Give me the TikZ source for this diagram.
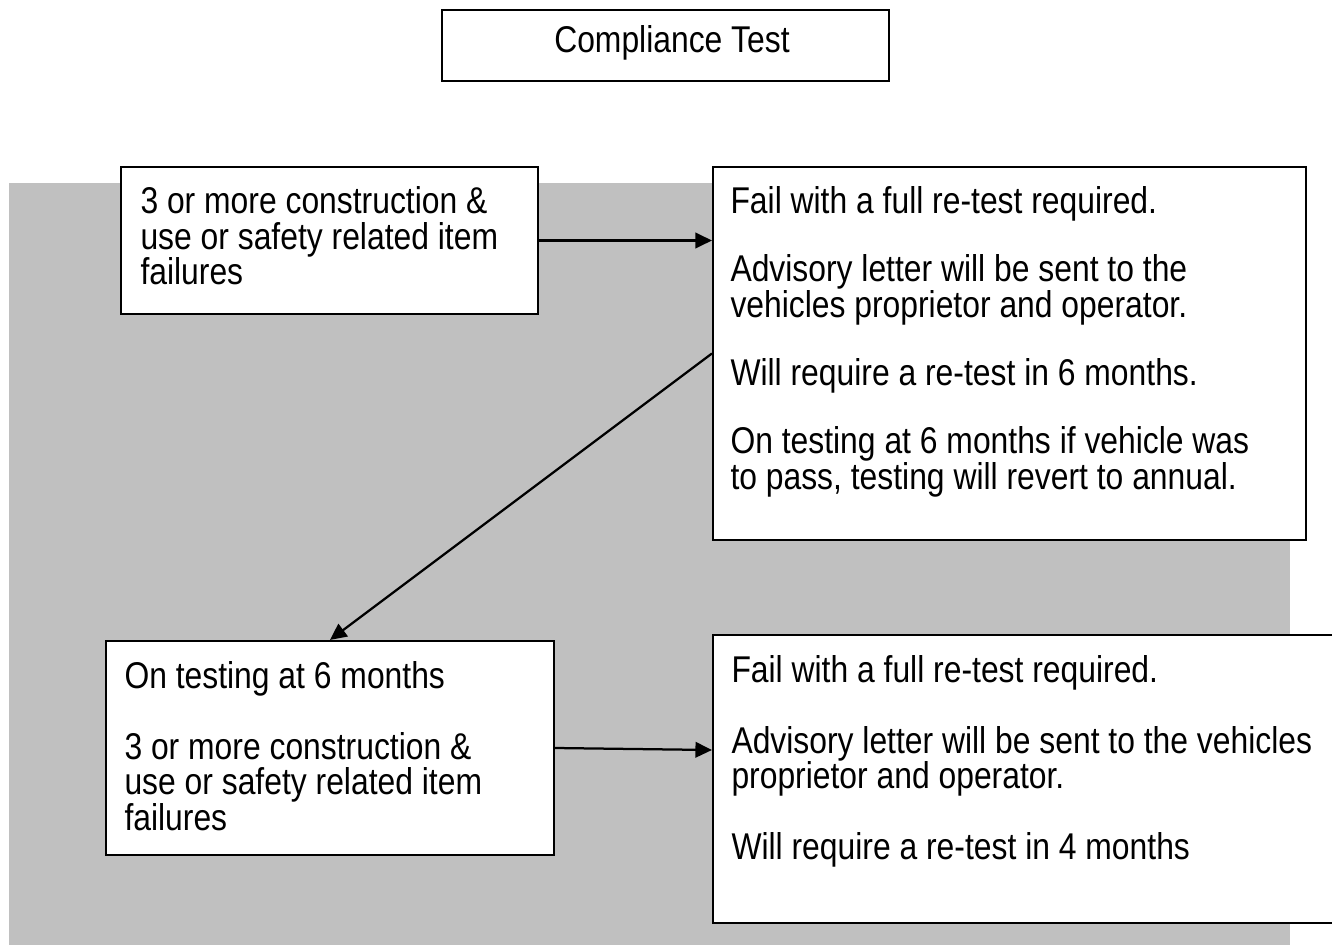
\documentclass[tikz,border=0pt]{standalone}
\usepackage{fontspec}
\setmainfont{Liberation Sans}
\newfontfamily\boxfont[FakeStretch=0.855]{Liberation Sans}
\usetikzlibrary{fit}
\usetikzlibrary{arrows.meta}
\definecolor{panelgrey}{RGB}{192,192,192}
\newcommand{\gapsk}{14.2pt}
\newcommand{\gapskb}{13pt}
\newcommand{\boxsize}{\fontsize{14.9}{14.2}\selectfont}

\begin{document}
\begin{tikzpicture}[x=0.4pt,y=-0.4pt,
  box/.style={draw,fill=white,line width=0.85pt,inner sep=0pt},
  txt/.style={anchor=base west,align=left,inner sep=0pt,font=\boxfont\boxsize},
  flow/.style={-{Triangle[length=6.6pt,width=6.2pt]},line width=0.9pt}]

\useasboundingbox (0,0) rectangle (1332,945);
\clip (0,0) rectangle (1332,945);

% grey panel behind the flow
\fill[panelgrey] (9,183) rectangle (1290,945);

\node[box,fit={(442,10) (889,81)}] (title) {};
\node[anchor=base,inner sep=0pt,font=\boxfont\boxsize] (titletxt) at (672,53) {Compliance Test};

\node[box,fit={(121,167) (538,314)}] (crit1) {};
\node[box,fit={(713,167) (1306,540)}] (res1) {};
\node[box,fit={(106,641) (554,855)}] (crit2) {};
\node[box,fit={(713,635) (1345,923)}] (res2) {};

% text placed by the baseline of its last line
\node[txt] (crit1txt) at (140,285) {3 or more construction \&\\use or safety related item\\failures};
\node[txt] (res1txt) at (730,489) {Fail with a full re-test required.\\[\gapskb]
  Advisory letter will be sent to the\\vehicles proprietor and operator.\\[\gapskb]
  Will require a re-test in 6 months.\\[\gapskb]
  On testing at 6 months if vehicle was\\to pass, testing will revert to annual.};
\node[txt] (crit2txt) at (124,830) {On testing at 6 months\\[\gapsk]
  3 or more construction \&\\use or safety related item\\failures};
\node[txt] (res2txt) at (731,859.5) {Fail with a full re-test required.\\[\gapsk]
  Advisory letter will be sent to the vehicles\\proprietor and operator.\\[\gapsk]
  Will require a re-test in 4 months};

\draw[flow] (crit1.east) -- (crit1.east -| res1.west);
\draw[flow] (res1.west) -- (crit2.north);
\draw[flow] (crit2.east) -- ([yshift=11.6pt]res2.west);

\end{tikzpicture}
\end{document}
